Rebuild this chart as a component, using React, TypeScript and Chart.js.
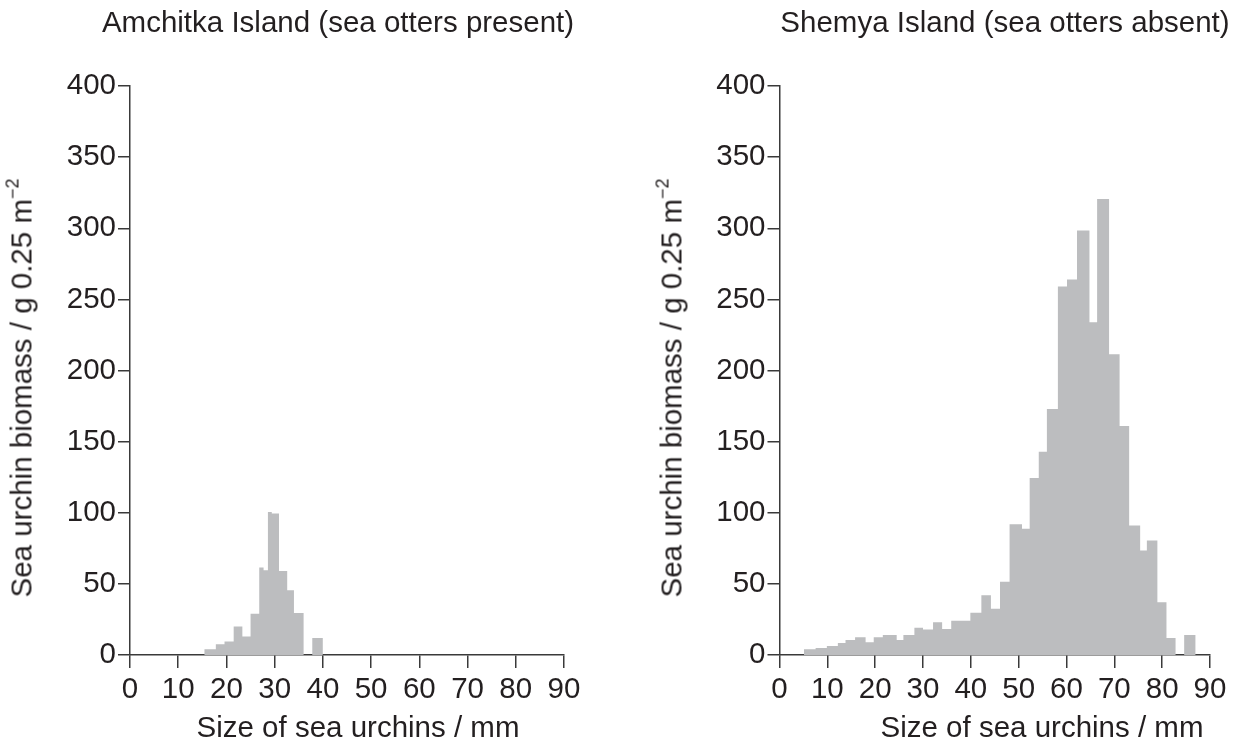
import React, { useEffect, useRef } from 'react';
import { Chart, registerables } from 'chart.js';

Chart.register(...registerables);

// Bin edges (mm) and biomass per bin (g 0.25 m^-2); last edge closes the final bin
const amchitkaEdges = [15.4, 17.8, 19.6, 21.5, 23.3, 25.0, 26.8, 27.7, 28.6, 29.4, 30.9, 32.6, 34.0, 36.0, 37.8, 40.0];
const amchitkaBiomass = [4, 7.5, 9.5, 20, 13, 29, 61.5, 59.5, 100.5, 99.5, 59, 45.5, 29.5, 0, 12];

const shemyaEdges = [
  5.1, 7.55, 9.9, 12.2, 13.8, 15.8, 18.0, 19.7, 21.6, 24.5, 25.9, 28.2, 30.0, 32.1, 34.0, 35.9,
  39.9, 42.2, 44.2, 46.1, 48.1, 50.7, 52.3, 54.2, 55.9, 58.2, 60.1, 62.2, 64.8, 66.4, 68.9,
  71.1, 73.1, 75.4, 76.8, 79.0, 80.9, 82.8, 84.6, 87.0,
];
const shemyaBiomass = [
  4, 5, 6.3, 8.4, 10.5, 12.4, 8.9, 12.4, 14, 10.5, 14, 19.2, 18, 23, 18.3, 24,
  29.7, 42, 32.5, 51.5, 92, 88.8, 124.5, 142.8, 173, 259, 264, 298.5, 234, 320.5, 211.5,
  161, 91, 73.5, 80.5, 37, 12, 0, 14,
];

const xRange = [0, 90];
const xStep = 10;
const yRange = [0, 400];
const yStep = 50;

const titles = ['Amchitka Island (sea otters present)', 'Shemya Island (sea otters absent)'];
const xTitle = 'Size of sea urchins / mm';
const yTitleMain = 'Sea urchin biomass / g 0.25 m';
const yTitleSup = '−2';

const TEXT = '#231f20';
const AXIS = '#3a3a3a';
const BAR = '#bcbdbf';
const FONT = '"Liberation Sans", Arial, Helvetica, sans-serif';
const FS = 29.5;

function toSteps(edges: number[], values: number[]) {
  return edges.map((x, i) => ({ x, y: i < values.length ? values[i] : 0 }));
}

type HistProps = {
  edges: number[];
  values: number[];
  left: number;
  padLeft: number;
  padRight: number;
};

function Histogram({ edges, values, left, padLeft, padRight }: HistProps) {
  const ref = useRef<HTMLCanvasElement | null>(null);
  useEffect(() => {
    if (!ref.current) return;
    const tickFont = { family: FONT, size: FS };
    const chart = new Chart(ref.current, {
      type: 'line',
      data: {
        datasets: [
          {
            data: toSteps(edges, values),
            stepped: 'before',
            fill: 'origin',
            backgroundColor: BAR,
            borderColor: 'rgba(0,0,0,0)',
            borderWidth: 0,
            pointRadius: 0,
            pointHoverRadius: 0,
          },
        ],
      },
      options: {
        animation: false,
        responsive: false,
        maintainAspectRatio: false,
        layout: { padding: { left: padLeft, right: padRight, top: 86, bottom: 0 } },
        plugins: { legend: { display: false }, tooltip: { enabled: false }, title: { display: false } },
        scales: {
          x: {
            type: 'linear',
            min: xRange[0],
            max: xRange[1],
            ticks: { stepSize: xStep, color: TEXT, font: tickFont, padding: 4, maxRotation: 0, autoSkip: false },
            grid: { drawOnChartArea: false, drawTicks: true, tickLength: 13, color: AXIS, lineWidth: 1.5 },
            border: { display: true, color: AXIS, width: 1.5 },
            afterFit: (s: any) => {
              s.height = 87;
            },
          },
          y: {
            type: 'linear',
            min: yRange[0],
            max: yRange[1],
            ticks: { stepSize: yStep, color: TEXT, font: tickFont, padding: 2 },
            grid: { drawOnChartArea: false, drawTicks: true, tickLength: 12, color: AXIS, lineWidth: 1.5 },
            border: { display: true, color: AXIS, width: 1.5 },
            afterFit: (s: any) => {
              s.width = 65;
            },
          },
        },
      },
    } as any);
    return () => chart.destroy();
  }, []);
  return (
    <canvas
      ref={ref}
      width={620}
      height={742}
      style={{ position: 'absolute', left, top: 0, width: 620, height: 742 }}
    />
  );
}

const textBase: React.CSSProperties = {
  position: 'absolute',
  fontFamily: FONT,
  fontSize: FS,
  lineHeight: '29px',
  whiteSpace: 'nowrap',
  color: TEXT,
};

function CenteredText({ cx, top, children }: { cx: number; top: number; children: React.ReactNode }) {
  return <div style={{ ...textBase, left: cx, top, transform: 'translateX(-50%)' }}>{children}</div>;
}

function YTitle({ cx, cy }: { cx: number; cy: number }) {
  return (
    <div style={{ ...textBase, left: cx, top: cy, transform: 'translate(-50%, -50%) rotate(-90deg)' }}>
      {yTitleMain}
      <span style={{ fontSize: 18, verticalAlign: 'top', lineHeight: '18px', position: 'relative', top: -3 }}>
        {yTitleSup}
      </span>
    </div>
  );
}

export default function App() {
  return (
    <div style={{ position: 'absolute', left: 0, top: 0, width: 1240, height: 742, background: '#fff', overflow: 'hidden' }}>
      <Histogram edges={amchitkaEdges} values={amchitkaBiomass} left={0} padLeft={65} padRight={56} />
      <Histogram edges={shemyaEdges} values={shemyaBiomass} left={620} padLeft={94.5} padRight={30} />
      <CenteredText cx={338} top={6.5}>{titles[0]}</CenteredText>
      <CenteredText cx={1005} top={6.5}>{titles[1]}</CenteredText>
      <CenteredText cx={358} top={711.5}>{xTitle}</CenteredText>
      <CenteredText cx={1042} top={711.5}>{xTitle}</CenteredText>
      <YTitle cx={21} cy={388} />
      <YTitle cx={671} cy={388} />
    </div>
  );
}
